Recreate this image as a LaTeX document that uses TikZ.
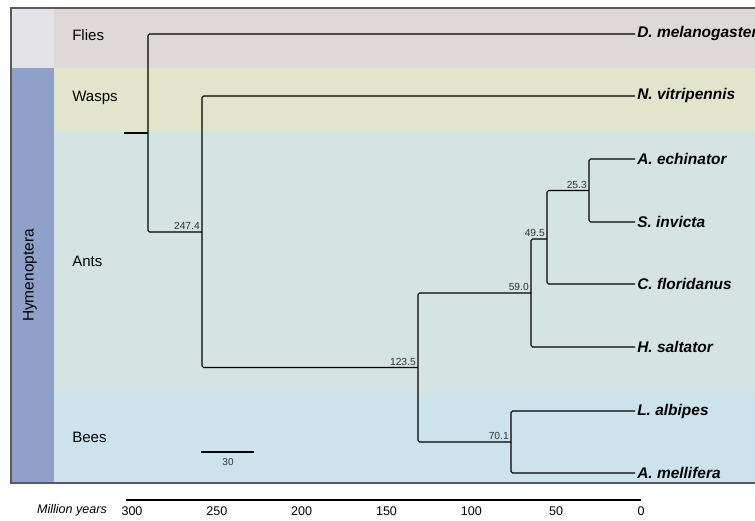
\documentclass[tikz,border=0pt]{standalone}
\usepackage{fontspec}
\setmainfont{Liberation Sans}
\usetikzlibrary{positioning}

\definecolor{cornerbg}{HTML}{E4E4E8}
\definecolor{hymbg}{HTML}{8FA1C9}
\definecolor{fliesbg}{HTML}{DED9D6}
\definecolor{waspsbg}{HTML}{E2E5CC}
\definecolor{antsbg}{HTML}{D5E3E3}
\definecolor{beesbg}{HTML}{CCE2EC}
\definecolor{framegray}{HTML}{5A5A5A}

\begin{document}
\begin{tikzpicture}[
  x=0.75pt, y=-0.75pt,
  grp/.style={anchor=west, inner sep=0pt, font=\fontsize{11.3}{13}\selectfont},
  tip/.style={anchor=west, inner sep=1.5pt, font=\fontsize{11.6}{13}\selectfont\bfseries\itshape},
  age/.style={anchor=south east, inner sep=1.5pt, text=black!80, font=\fontsize{7.7}{9}\selectfont},
  branch/.style={line width=0.8pt, rounded corners=1.2pt},
  tick/.style={inner sep=0pt, font=\fontsize{9.4}{11}\selectfont},
]
\useasboundingbox (0,0) rectangle (755,520);

% === BACKGROUND BANDS ===
\fill[cornerbg] (11,8) rectangle (54,68);
\fill[hymbg] (11,68) rectangle (54,483);
\fill[fliesbg] (54,8) rectangle (755,68);
\fill[waspsbg] (54,68) rectangle (755,131);
\fill[antsbg] (54,131) rectangle (755,393);
\fill[beesbg] (54,393) rectangle (755,483);
\draw[framegray, line width=0.9pt] (755,8) -- (11,8) -- (11,483) -- (755,483);

\node[rotate=90, inner sep=0pt, font=\fontsize{11.6}{13}\selectfont] (hym) at (30,275.5) {Hymenoptera};
\node[grp] (flies) at (72,35) {Flies};
\node[grp] (wasps) at (72,98) {Wasps};
\node[grp] (ants) at (72,261) {Ants};
\node[grp] (bees) at (72,437) {Bees};

% === TIPS ===
\node[tip] (dmel) at (635,34) {D. melanogaster};
\node[tip] (nvit) at (635,96) {N. vitripennis};
\node[tip] (aech) at (635,159) {A. echinator};
\node[tip] (sinv) at (635,222) {S. invicta};
\node[tip] (cflo) at (635,284) {C. floridanus};
\node[tip] (hsal) at (635,347) {H. saltator};
\node[tip] (lalb) at (635,411) {L. albipes};
\node[tip] (amel) at (635,473) {A. mellifera};

% === INTERNAL NODES ===
\coordinate (stub) at (124,133);
\coordinate (root) at (148,133);
\coordinate (n247) at (202,232);
\coordinate (n123) at (418,367.5);
\coordinate (n59) at (531,293);
\coordinate (n49) at (547,239);
\coordinate (n25) at (589,190.5);
\coordinate (n70) at (511,442);

\draw[branch] (stub) -- (root);
\draw[branch] (root) |- (dmel.west);
\draw[branch] (root) |- (n247);
\draw[branch] (n247) |- (nvit.west);
\draw[branch] (n247) |- (n123);
\draw[branch] (n123) |- (n59);
\draw[branch] (n123) |- (n70);
\draw[branch] (n59) |- (n49);
\draw[branch] (n59) |- (hsal.west);
\draw[branch] (n49) |- (n25);
\draw[branch] (n49) |- (cflo.west);
\draw[branch] (n25) |- (aech.west);
\draw[branch] (n25) |- (sinv.west);
\draw[branch] (n70) |- (lalb.west);
\draw[branch] (n70) |- (amel.west);

\node[age] at (n247) {247.4};
\node[age] at (n123) {123.5};
\node[age] at (n59) {59.0};
\node[age] at (n49) {49.5};
\node[age] at (n25) {25.3};
\node[age] at (n70) {70.1};

% scale bar
\coordinate (sb1) at (201,452);
\coordinate (sb2) at (254,452);
\draw[line width=0.8pt] (sb1) -- (sb2);
\node[inner sep=0pt, font=\fontsize{7.5}{9}\selectfont, text=black!80] (sblab) at (228,462) {30};

% === TIME AXIS ===
\coordinate (ax1) at (126,500);
\coordinate (ax2) at (641,500);
\draw[line width=0.8pt] (ax1) -- (ax2);
\foreach \v in {0,50,...,300}
  \node[tick] at ({641-\v*1.6967},511) {\v};
\node[tick, font=\fontsize{9.4}{11}\selectfont\itshape] (mya) at (72,510) {Million years};
\end{tikzpicture}
\end{document}
